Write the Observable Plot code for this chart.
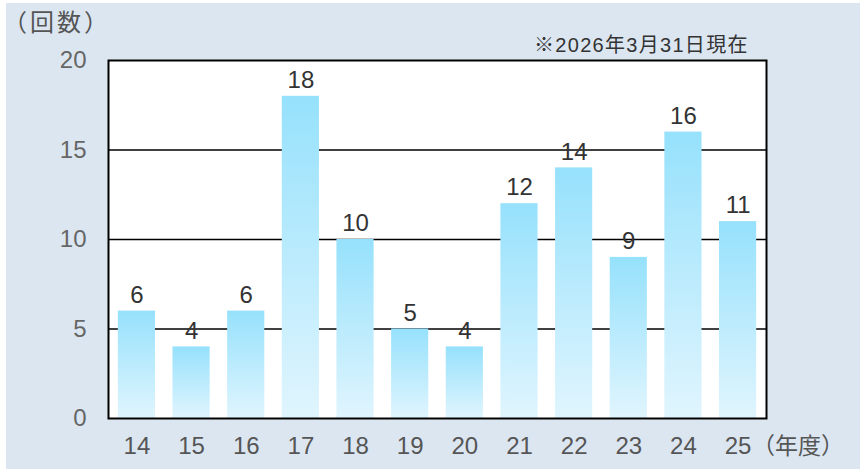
<!DOCTYPE html>
<html><head><meta charset="utf-8">
<script src="https://cdn.jsdelivr.net/npm/d3@7"></script>
<script src="https://cdn.jsdelivr.net/npm/@observablehq/plot@0.6"></script>
<style>
html,body{margin:0;padding:0;background:#fff;}
#wrap{position:absolute;left:6px;top:3px;width:854px;height:466px;background:#dce6f1;}
#chart{position:absolute;left:0;top:0;}
.ann{position:absolute;font-family:"Noto Sans CJK JP","Noto Sans",sans-serif;color:#444;white-space:nowrap;}
</style></head>
<body>
<div id="wrap"></div>
<div id="chart"></div>
<div class="ann" style="left:3px;top:3px;font-size:24px;letter-spacing:3px;color:#555;">（回数）</div>
<div class="ann" style="left:534px;top:29px;font-size:20px;letter-spacing:1.3px;color:#333;font-family:'Liberation Sans','Noto Sans CJK JP',sans-serif;">※2026年3月31日現在</div>
<div class="ann" style="left:752px;top:427px;font-size:23px;color:#555;">（年度）</div>
<script>
const years = ["14","15","16","17","18","19","20","21","22","23","24","25"];
const counts = [6,4,6,18,10,5,4,12,14,9,16,11];
const yTicks = [0,5,10,15,20];
const data = years.map((y,i)=>({year:y,count:counts[i]}));
const numFont = "'Liberation Sans',Arial,sans-serif";

const plot = Plot.plot({
  width:860, height:469,
  marginLeft:108, marginRight:94, marginTop:60, marginBottom:51,
  style:{background:"transparent", fontFamily:numFont},
  x:{domain:years, paddingInner:0.32, paddingOuter:0.18, round:false, label:null},
  y:{domain:[0,20], ticks:yTicks, label:null},
  marks:[
    () => {
      const s = d3.create("svg:defs");
      const g = s.append("linearGradient").attr("id","barGrad").attr("x1",0).attr("y1",0).attr("x2",0).attr("y2",1);
      g.append("stop").attr("offset","0%").attr("stop-color","#96e1fc");
      g.append("stop").attr("offset","100%").attr("stop-color","#e0f5fe");
      return s.node();
    },
    Plot.frame({fill:"#fff"}),
    Plot.ruleY(yTicks.filter(t=>t>0 && t<20), {stroke:"#000", strokeWidth:1.3}),
    Plot.barY(data, {x:"year", y:"count", fill:"url(#barGrad)"}),
    Plot.text(data, {x:"year", y:"count", text:d=>String(d.count), dy:-16, fontSize:24, fill:"#333"}),
    Plot.frame({stroke:"#000", strokeWidth:2}),
    Plot.axisX({tickSize:0, tickPadding:18, fontSize:24, fill:"#555", label:null}),
    Plot.axisY({ticks:yTicks, tickSize:0, tickPadding:22, fontSize:24, fill:"#666", label:null})
  ]
});
document.getElementById("chart").appendChild(plot);
</script>
</body></html>
